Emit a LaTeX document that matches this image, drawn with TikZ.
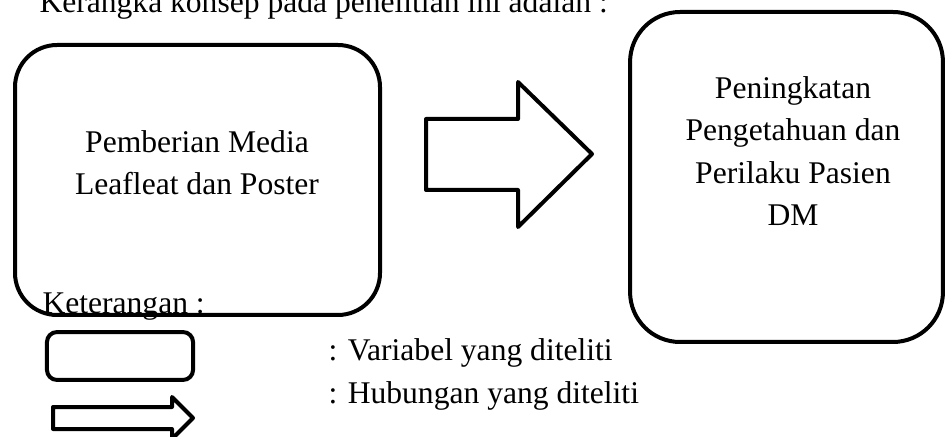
\documentclass[tikz,border=0pt]{standalone}
\usepackage{fontspec}
\setmainfont{Liberation Serif}
\begin{document}
\begin{tikzpicture}[x=0.38pt,y=-0.38pt,
    varbox/.style={draw,line width=1.52pt,rounded corners=#1,inner sep=0pt},
    blkarrow/.style={draw,line width=1.52pt,line join=round},
    txt/.style={font=\fontsize{12}{16.2}\selectfont,inner sep=0pt}]
  \useasboundingbox (0,0) rectangle (945,437);
  \node[txt,anchor=base west] (title) at (39,13) {Kerangka konsep pada penelitian ini adalah :};
  % variables
  \node[varbox=16pt,minimum width=138.7pt,minimum height=102.6pt] (media) at (197.5,180) {};
  \node[varbox=19pt,minimum width=118.9pt,minimum height=125.4pt] (hasil) at (786.5,177) {};
  \node[txt,align=center,anchor=base] (mediatxt) at (197,195) {Pemberian Media\\Leafleat dan Poster};
  \node[txt,align=center,anchor=base] (hasiltxt) at (793,226) {Peningkatan\\Pengetahuan dan\\Perilaku Pasien\\DM};
  % relation
  \draw[blkarrow] (426,119) -- (518,119) -- (518,82) -- (592,154)
    -- (518,227) -- (518,190) -- (426,190) -- cycle;
  % legend
  \node[txt,anchor=base west] (ket) at (42,313) {Keterangan :};
  \node[varbox=3.8pt,minimum width=55.5pt,minimum height=18.2pt] (kvar) at (120,356) {};
  \draw[blkarrow] (53,407) -- (172,407) -- (172,397) -- (193,418)
    -- (172,439) -- (172,429) -- (53,429) -- cycle;
  \node[txt,anchor=base west] (kvartxt) at (328,360) {: Variabel yang diteliti};
  \node[txt,anchor=base west] (kreltxt) at (328,403) {: Hubungan yang diteliti};
\end{tikzpicture}
\end{document}
